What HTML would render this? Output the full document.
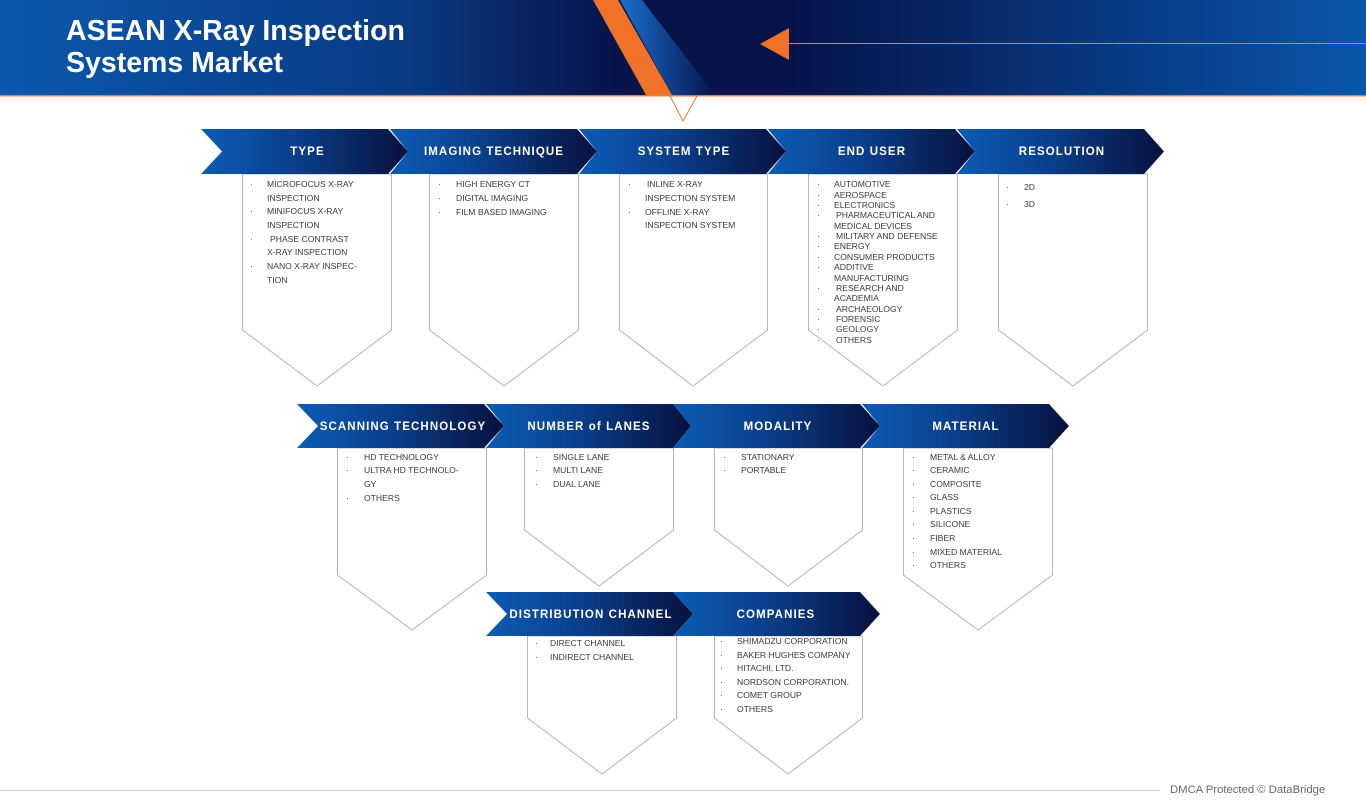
<!DOCTYPE html>
<html><head><meta charset="utf-8"><style>
body{margin:0;width:1366px;height:808px;position:relative;background:#fff;overflow:hidden;font-family:"Liberation Sans",sans-serif}
.t{position:absolute;font-size:8.6px;color:#3a3a3a;line-height:12px;white-space:nowrap}
.h{position:absolute;color:#fff;font-weight:bold;font-size:11.5px;letter-spacing:1.1px;line-height:14px;text-align:center;white-space:nowrap}
</style></head><body>
<svg width="1366" height="808" style="position:absolute;left:0;top:0">
<defs>
<linearGradient id="hd" x1="0" x2="1" y1="0" y2="0">
<stop offset="0" stop-color="#0b58ae"/><stop offset="0.3" stop-color="#0a3a82"/><stop offset="0.45" stop-color="#06144a"/><stop offset="0.58" stop-color="#06144a"/><stop offset="1" stop-color="#0a56ab"/></linearGradient>
<linearGradient id="bn" x1="0" x2="1" y1="0" y2="0">
<stop offset="0" stop-color="#0c5cb6"/><stop offset="0.45" stop-color="#0a3f8c"/><stop offset="1" stop-color="#07113d"/></linearGradient>
<linearGradient id="bs" x1="0" x2="1" y1="0" y2="0">
<stop offset="0" stop-color="#1a6fd0"/><stop offset="1" stop-color="#06144a"/></linearGradient>
</defs>
<rect x="0" y="0" width="1366" height="95" fill="url(#hd)"/>
<polygon points="620,0 642,0 715,95 672,95" fill="url(#bs)"/>
<polygon points="593,0 618,0 672,95 646,95" fill="#f07228"/>
<rect x="0" y="95" width="1366" height="1.5" fill="#e0823a"/>
<polygon points="670,96 697,96 683,121" fill="#fff" stroke="#f07228" stroke-width="1"/>
<polygon points="760,44 789,28 789,60" fill="#f07228"/>
<line x1="789" y1="43.5" x2="1366" y2="43.5" stroke="#e0823a" stroke-width="1"/>
<g fill="#fff" stroke="#b5b5b5" stroke-width="1">
<polygon points="242.5,174 391.5,174 391.5,330 317,386 242.5,330"/>
<polygon points="429.5,174 578.5,174 578.5,330 504,386 429.5,330"/>
<polygon points="619.5,174 767.5,174 767.5,330 693,386 619.5,330"/>
<polygon points="808.5,174 957.5,174 957.5,330 883,386 808.5,330"/>
<polygon points="998.5,174 1147.5,174 1147.5,330 1073,386 998.5,330"/>
<polygon points="337.5,448 486.5,448 486.5,575 412,630 337.5,575"/>
<polygon points="524.5,448 673.5,448 673.5,530 599,586 524.5,530"/>
<polygon points="714.5,448 862.5,448 862.5,530 788,586 714.5,530"/>
<polygon points="903.5,448 1052.5,448 1052.5,575 978,630 903.5,575"/>
<polygon points="527.5,636 676.5,636 676.5,718 602,774 527.5,718"/>
<polygon points="714.5,636 862.5,636 862.5,718 788,774 714.5,718"/>
</g>
<g fill="url(#bn)">
<polygon points="201,129 388,129 408,151.5 388,174 201,174 222,151.5"/>
<polygon points="390,129 577,129 597,151.5 577,174 390,174 408,151.5"/>
<polygon points="579,129 766,129 786,151.5 766,174 579,174 597,151.5"/>
<polygon points="768,129 955,129 975,151.5 955,174 768,174 786,151.5"/>
<polygon points="957,129 1144,129 1164,151.5 1144,174 957,174 975,151.5"/>
<polygon points="297,404 484,404 504,426 484,448 297,448 318,426"/>
<polygon points="486,404 673,404 691,426 673,448 486,448 504,426"/>
<polygon points="673,404 860,404 880,426 860,448 673,448 691,426"/>
<polygon points="862,404 1049,404 1069,426 1049,448 862,448 880,426"/>
<polygon points="486,592 673,592 693,614 673,636 486,636 507,614"/>
<polygon points="673,592 860,592 880,614 860,636 673,636 693,614"/>
</g>
<line x1="0" y1="790.5" x2="1160" y2="790.5" stroke="#d0d0d0" stroke-width="1"/>
</svg>
<div style="position:absolute;left:66px;top:15px;color:#fff;font-weight:bold;font-size:28.5px;line-height:32px">ASEAN X-Ray Inspection<br>Systems Market</div>
<div class="h" style="left:215px;width:185px;top:145px">TYPE</div>
<div class="h" style="left:400px;width:188px;top:145px">IMAGING TECHNIQUE</div>
<div class="h" style="left:590px;width:188px;top:145px">SYSTEM TYPE</div>
<div class="h" style="left:778px;width:188px;top:145px">END USER</div>
<div class="h" style="left:968px;width:188px;top:145px">RESOLUTION</div>
<div class="h" style="left:310px;width:186px;top:420px">SCANNING TECHNOLOGY</div>
<div class="h" style="left:496px;width:186px;top:420px">NUMBER of LANES</div>
<div class="h" style="left:685px;width:186px;top:420px">MODALITY</div>
<div class="h" style="left:873px;width:186px;top:420px">MATERIAL</div>
<div class="h" style="left:498px;width:186px;top:608px">DISTRIBUTION CHANNEL</div>
<div class="h" style="left:683px;width:186px;top:608px">COMPANIES</div>

<div class="t" style="left:250px;top:178px">·</div><div class="t" style="left:267px;top:178px">MICROFOCUS X-RAY</div>
<div class="t" style="left:267px;top:192px">INSPECTION</div>
<div class="t" style="left:250px;top:205px">·</div><div class="t" style="left:267px;top:205px">MINIFOCUS X-RAY</div>
<div class="t" style="left:267px;top:219px">INSPECTION</div>
<div class="t" style="left:250px;top:233px">·</div><div class="t" style="left:270px;top:233px">PHASE CONTRAST</div>
<div class="t" style="left:267px;top:246px">X-RAY INSPECTION</div>
<div class="t" style="left:250px;top:260px">·</div><div class="t" style="left:267px;top:260px">NANO X-RAY INSPEC-</div>
<div class="t" style="left:267px;top:274px">TION</div>
<div class="t" style="left:438px;top:178px">·</div><div class="t" style="left:456px;top:178px">HIGH ENERGY CT</div>
<div class="t" style="left:438px;top:192px">·</div><div class="t" style="left:456px;top:192px">DIGITAL IMAGING</div>
<div class="t" style="left:438px;top:206px">·</div><div class="t" style="left:456px;top:206px">FILM BASED IMAGING</div>
<div class="t" style="left:628px;top:178px">·</div><div class="t" style="left:647px;top:178px">INLINE X-RAY</div>
<div class="t" style="left:645px;top:192px">INSPECTION SYSTEM</div>
<div class="t" style="left:628px;top:206px">·</div><div class="t" style="left:645px;top:206px">OFFLINE X-RAY</div>
<div class="t" style="left:645px;top:219px">INSPECTION SYSTEM</div>
<div class="t" style="left:817px;top:178px">·</div><div class="t" style="left:834px;top:178px">AUTOMOTIVE</div>
<div class="t" style="left:817px;top:189px">·</div><div class="t" style="left:834px;top:189px">AEROSPACE</div>
<div class="t" style="left:817px;top:199px">·</div><div class="t" style="left:834px;top:199px">ELECTRONICS</div>
<div class="t" style="left:817px;top:209px">·</div><div class="t" style="left:836px;top:209px">PHARMACEUTICAL AND</div>
<div class="t" style="left:834px;top:220px">MEDICAL DEVICES</div>
<div class="t" style="left:817px;top:230px">·</div><div class="t" style="left:836px;top:230px">MILITARY AND DEFENSE</div>
<div class="t" style="left:817px;top:240px">·</div><div class="t" style="left:834px;top:240px">ENERGY</div>
<div class="t" style="left:817px;top:251px">·</div><div class="t" style="left:834px;top:251px">CONSUMER PRODUCTS</div>
<div class="t" style="left:817px;top:261px">·</div><div class="t" style="left:834px;top:261px">ADDITIVE</div>
<div class="t" style="left:834px;top:272px">MANUFACTURING</div>
<div class="t" style="left:817px;top:282px">·</div><div class="t" style="left:836px;top:282px">RESEARCH AND</div>
<div class="t" style="left:834px;top:292px">ACADEMIA</div>
<div class="t" style="left:817px;top:303px">·</div><div class="t" style="left:836px;top:303px">ARCHAEOLOGY</div>
<div class="t" style="left:817px;top:313px">·</div><div class="t" style="left:836px;top:313px">FORENSIC</div>
<div class="t" style="left:817px;top:323px">·</div><div class="t" style="left:836px;top:323px">GEOLOGY</div>
<div class="t" style="left:817px;top:334px">·</div><div class="t" style="left:836px;top:334px">OTHERS</div>
<div class="t" style="left:1006px;top:181px">·</div><div class="t" style="left:1024px;top:181px">2D</div>
<div class="t" style="left:1006px;top:198px">·</div><div class="t" style="left:1024px;top:198px">3D</div>
<div class="t" style="left:346px;top:451px">·</div><div class="t" style="left:364px;top:451px">HD TECHNOLOGY</div>
<div class="t" style="left:346px;top:464px">·</div><div class="t" style="left:364px;top:464px">ULTRA HD TECHNOLO-</div>
<div class="t" style="left:364px;top:478px">GY</div>
<div class="t" style="left:346px;top:492px">·</div><div class="t" style="left:364px;top:492px">OTHERS</div>
<div class="t" style="left:535px;top:451px">·</div><div class="t" style="left:553px;top:451px">SINGLE LANE</div>
<div class="t" style="left:535px;top:464px">·</div><div class="t" style="left:553px;top:464px">MULTI LANE</div>
<div class="t" style="left:535px;top:478px">·</div><div class="t" style="left:553px;top:478px">DUAL LANE</div>
<div class="t" style="left:723px;top:451px">·</div><div class="t" style="left:741px;top:451px">STATIONARY</div>
<div class="t" style="left:723px;top:464px">·</div><div class="t" style="left:741px;top:464px">PORTABLE</div>
<div class="t" style="left:912px;top:451px">·</div><div class="t" style="left:930px;top:451px">METAL &amp; ALLOY</div>
<div class="t" style="left:912px;top:464px">·</div><div class="t" style="left:930px;top:464px">CERAMIC</div>
<div class="t" style="left:912px;top:478px">·</div><div class="t" style="left:930px;top:478px">COMPOSITE</div>
<div class="t" style="left:912px;top:491px">·</div><div class="t" style="left:930px;top:491px">GLASS</div>
<div class="t" style="left:912px;top:505px">·</div><div class="t" style="left:930px;top:505px">PLASTICS</div>
<div class="t" style="left:912px;top:518px">·</div><div class="t" style="left:930px;top:518px">SILICONE</div>
<div class="t" style="left:912px;top:532px">·</div><div class="t" style="left:930px;top:532px">FIBER</div>
<div class="t" style="left:912px;top:546px">·</div><div class="t" style="left:930px;top:546px">MIXED MATERIAL</div>
<div class="t" style="left:912px;top:559px">·</div><div class="t" style="left:930px;top:559px">OTHERS</div>
<div class="t" style="left:535px;top:637px">·</div><div class="t" style="left:550px;top:637px">DIRECT CHANNEL</div>
<div class="t" style="left:535px;top:651px">·</div><div class="t" style="left:550px;top:651px">INDIRECT CHANNEL</div>
<div class="t" style="left:720px;top:635px">·</div><div class="t" style="left:737px;top:635px">SHIMADZU CORPORATION</div>
<div class="t" style="left:720px;top:649px">·</div><div class="t" style="left:737px;top:649px">BAKER HUGHES COMPANY</div>
<div class="t" style="left:720px;top:662px">·</div><div class="t" style="left:737px;top:662px">HITACHI, LTD.</div>
<div class="t" style="left:720px;top:676px">·</div><div class="t" style="left:737px;top:676px">NORDSON CORPORATION.</div>
<div class="t" style="left:720px;top:689px">·</div><div class="t" style="left:737px;top:689px">COMET GROUP</div>
<div class="t" style="left:720px;top:703px">·</div><div class="t" style="left:737px;top:703px">OTHERS</div>

<div style="position:absolute;left:1170px;top:784px;font-size:11.3px;color:#666;white-space:nowrap">DMCA Protected © DataBridge</div>
</body></html>
